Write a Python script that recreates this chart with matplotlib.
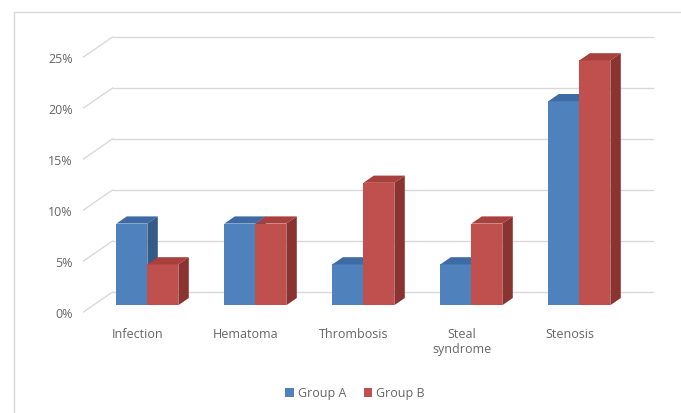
import matplotlib
matplotlib.use("Agg")
import matplotlib.pyplot as plt
from matplotlib.patches import Polygon, Rectangle, Patch

# Complication rates per group (percent)
categories = ["Infection", "Hematoma", "Thrombosis", "Steal\nsyndrome", "Stenosis"]
group_a = [8, 8, 4, 4, 20]
group_b = [4, 8, 12, 8, 24]
series_names = ["Group A", "Group B"]
y_ticks = [0, 5, 10, 15, 20, 25]

W, H, DPI = 681, 414, 100
fig = plt.figure(figsize=(W / DPI, H / DPI), dpi=DPI)
fig.patch.set_facecolor("white")

# axes in (category, percent) units; pixel mapping chosen for oblique 3D look
PX_PER_CAT = 108.0
PX_PER_PCT = 10.2
X0_PX, Y0_PX = 137.5, 313.0  # pixel of category 0 / 0% on the front plane
ax = fig.add_axes([0, 0, 1, 1])
ax.set_xlim(-X0_PX / PX_PER_CAT, (W - X0_PX) / PX_PER_CAT)
ax.set_ylim((Y0_PX - H) / PX_PER_PCT, Y0_PX / PX_PER_PCT)
ax.axis("off")

# depth vector of the floor (category units, percent units)
DX = 29.0 / PX_PER_CAT
DY = 20.0 / PX_PER_PCT
F0, F1 = 0.34, 0.70  # bar front / back as fraction of depth

grid_c = "#D9D9D9"
text_c = "#666666"
font = ["Open Sans", "DejaVu Sans"]

x_lo, x_hi = -0.5, len(categories) - 0.5
for v in y_ticks:
    # back wall gridline
    ax.plot([x_lo + DX, x_hi + DX], [v + DY, v + DY], color=grid_c, lw=1.0, zorder=1)
    # floor/side wall diagonal
    ax.plot([x_lo, x_lo + DX], [v, v + DY], color=grid_c, lw=1.0, zorder=1)
    ax.text(x_lo - 0.1, v - 0.15, f"{v}%", ha="right", va="center",
            fontsize=9, color=text_c, family=font)

colors = {
    "front": ["#4F81BD", "#C0504D"],
    "top": ["#3E6BA3", "#A8403D"],
    "side": ["#345A88", "#8A3331"],
}

bw = 0.287
series = [group_a, group_b]
z = 3
for i in range(len(categories)):
    for j, vals in enumerate(series):
        v = vals[i]
        xl = i - bw + j * bw + F0 * DX
        xr = xl + bw
        yb = F0 * DY
        yt = v + yb
        ddx = (F1 - F0) * DX
        ddy = (F1 - F0) * DY
        ax.bar(xl, v, width=bw, bottom=yb, align="edge",
               color=colors["front"][j], edgecolor="none", zorder=z)
        ax.add_patch(Polygon([(xl, yt), (xr, yt), (xr + ddx, yt + ddy), (xl + ddx, yt + ddy)],
                             closed=True, facecolor=colors["top"][j], edgecolor="none", zorder=z))
        ax.add_patch(Polygon([(xr, yb), (xr, yt), (xr + ddx, yt + ddy), (xr + ddx, yb + ddy)],
                             closed=True, facecolor=colors["side"][j], edgecolor="none", zorder=z))
        z += 1

for i, name in enumerate(categories):
    ax.text(i, -1.45, name, ha="center", va="top", fontsize=9, color=text_c,
            family=font, linespacing=1.25)

# chart border
fig.patches.append(Rectangle((14 / W, -0.1), 1.2, (H - 13) / H + 0.1,
                             transform=fig.transFigure, fill=False,
                             edgecolor="#D9D9D9", lw=1.0))

handles = [Patch(facecolor=colors["front"][k], edgecolor="none", label=series_names[k])
           for k in range(2)]
fig.legend(handles=handles, loc="center", bbox_to_anchor=(355 / W, 1 - 394 / H),
           ncol=2, frameon=False, handlelength=0.7, handleheight=0.7,
           handletextpad=0.3, columnspacing=1.4, labelcolor=text_c,
           prop={"family": font, "size": 9})

fig.savefig("out.png", dpi=DPI, facecolor="white")
